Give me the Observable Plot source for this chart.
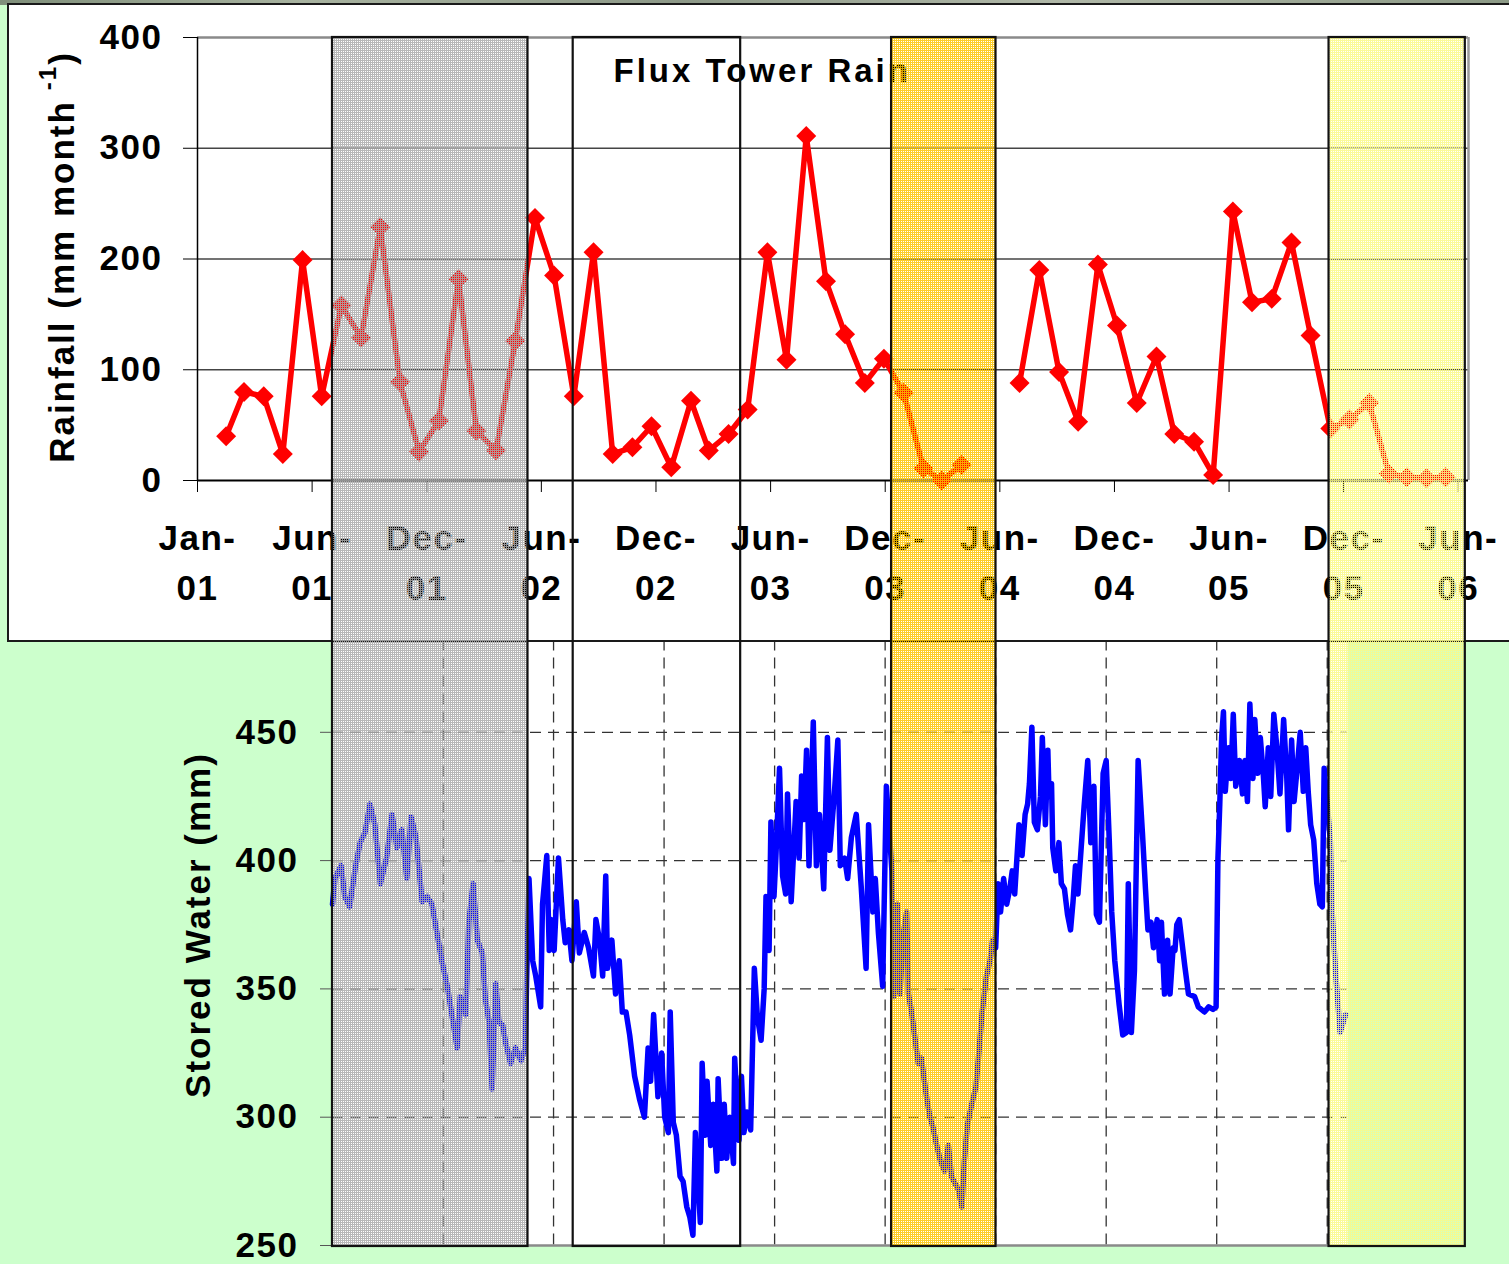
<!DOCTYPE html>
<html><head><meta charset="utf-8">
<script src="https://cdn.jsdelivr.net/npm/d3@7"></script>
<script src="https://cdn.jsdelivr.net/npm/@observablehq/plot@0.6"></script>
<style>
html,body{margin:0;padding:0;width:1509px;height:1264px;overflow:hidden;background:#ccffcc;}
#strip{position:absolute;left:0;top:0;width:1509px;height:5px;background:linear-gradient(90deg,#7f8f7a,#a8b3a0 20%,#8d9988 45%,#b0b8a8 70%,#8c9a86);}
#panel{position:absolute;left:7px;top:3px;width:1515px;height:639px;box-sizing:border-box;border:2px solid #1a1a1a;background:#fff;}
.abs{position:absolute;left:0;top:0;}
#bottomChart{position:absolute;left:0;top:590px;}
svg text{letter-spacing:1.5px;}
.title text{letter-spacing:3px;}
.ylab{position:absolute;font:bold 35px "Liberation Sans",Arial,sans-serif;white-space:nowrap;line-height:1;letter-spacing:2px;transform:translate(-50%,-50%) rotate(-90deg);color:#000;}
.sup{font-size:24px;position:relative;top:-0.75em;margin-left:10px;}
</style></head>
<body>
<div id="bottomChart"></div>
<div id="strip"></div>
<div id="panel"></div>
<div id="topChart" class="abs"></div>
<div class="ylab" style="left:61px;top:257px;">Rainfall (mm month<span class="sup">-1</span>)</div>
<div class="ylab" style="left:197px;top:925px;">Stored Water (mm)</div>
<div id="overlayChart" class="abs"></div>
<script>
// ---------- DATA ----------
const rainStart = "2001-02-15"; // monthly totals, plotted mid-month
const rainValues = [
  40, 80, 76, 24, 199, 76, 158, 129, 229, 89, 26,          // Feb–Dec 2001
  54, 182, 45, 27, 126, 237, 185, 76, 206, 24, 30, 49,     // 2002
  12, 72, 27, 42, 64, 206, 109, 311, 180, 132, 88, 110,    // 2003
  79, 11, 0, 14, null, null, 88, 190, 98, 53, 195, 140,    // 2004
  70, 112, 42, 35, 5, 243, 161, 164, 215, 131, 47, 55,     // 2005
  70, 6, 3, 2, 3                                           // Jan–May 2006
];
const tickDates = ["2001-01-01","2001-06-30","2001-12-27","2002-06-25","2002-12-22","2003-06-20",
                   "2003-12-17","2004-06-14","2004-12-11","2005-06-09","2005-12-06","2006-06-04"];
const tickLabels = ["Jan-\n01","Jun-\n01","Dec-\n01","Jun-\n02","Dec-\n02","Jun-\n03",
                    "Dec-\n03","Jun-\n04","Dec-\n04","Jun-\n05","Dec-\n05","Jun-\n06"];
const rainTicks = [0, 100, 200, 300, 400];
const waterTicks = [250, 300, 350, 400, 450];
const rainDomain = ["2001-01-01", "2006-06-20"];
const waterDomain = ["2001-06-30", "2006-01-08"];
const waterOrigin = "2001-01-01";
// [days since 2001-01-01, stored water mm]
const storedWater = [
 [180,383],[184,393],[194,398],[200,386],[208,382],[217,397],[225,407],[233,411],[241,422],[249,414],
 [258,391],[268,401],[277,418],[285,405],[293,412],[301,393],[308,417],[316,409],[326,384],[334,386],
 [342,383],[350,372],[358,361],[367,351],[375,339],[383,327],[388,347],[397,340],[402,376],[409,391],
 [416,369],[424,364],[429,346],[435,337],[440,311],[446,352],[451,337],[457,336],[462,329],[470,321],
 [478,327],[487,322],[494,327],[496,352],
 [500,393],[506,361],[511,355],[519,343],[522,383],[525,391],[529,402],[533,365],[537,377],[541,365],
 [548,401],[555,377],[559,368],[565,373],[570,361],[577,384],[582,364],[590,372],[597,366],[605,355],
 [609,377],[615,369],[620,355],[625,394],[628,358],[635,369],[641,348],[647,361],[652,341],[658,341],
 [664,332],[672,316],[680,307],[688,300],[694,327],[698,314],[703,340],[710,308],[716,325],[721,300],
 [727,294],[730,341],[735,298],[740,293],[746,277],[751,275],[757,265],[762,261],[767,254],[771,294],
 [779,259],[782,321],[787,293],[790,314],[796,289],[800,305],[806,279],[808,315],[814,284],[818,305],
 [822,284],[827,300],[833,282],[835,323],[842,291],[846,316],[850,294],[855,302],[861,295],[867,358],
 [872,339],[878,330],[883,350],[886,386],[891,365],[894,415],[899,386],[902,401],[908,436],[913,394],
 [918,387],[921,426],[927,384],[935,423],[940,401],[944,433],[948,416],[952,443],[956,398],[963,454],
 [968,398],[973,418],[980,389],[986,448],[990,404],[997,425],[1003,447],[1007,398],[1014,401],[1019,393],
 [1025,409],[1033,418],[1041,390],[1049,358],[1053,414],[1060,380],[1064,393],[1069,372],[1076,351],[1082,429],
 [1091,396],[1094,347],[1100,383],[1104,348],[1110,372],[1115,380],[1118,348],[1123,341],[1129,330],[1134,321],
 [1139,323],[1144,314],[1148,307],[1153,300],[1158,296],[1164,289],[1170,283],[1177,279],[1183,289],[1188,277],
 [1192,275],[1199,272],[1205,265],[1209,283],[1214,297],[1221,305],[1228,312],[1233,326],[1238,341],[1245,355],
 [1251,361],[1255,369],[1260,366],[1264,391],[1268,380],[1273,393],[1278,383],[1283,389],[1287,396],[1291,387],
 [1298,414],[1303,402],[1308,418],[1312,422],[1315,430],[1319,452],[1323,415],[1328,412],[1333,425],[1336,448],
 [1341,414],[1345,443],[1347,425],[1351,430],[1353,405],[1358,396],[1363,407],[1367,391],[1372,389],[1377,379],
 [1382,373],[1386,384],[1390,398],[1394,387],[1399,404],[1404,421],[1410,439],[1415,407],[1420,429],[1424,379],
 [1429,376],[1435,434],[1440,439],[1445,408],[1449,380],[1454,361],[1461,344],[1467,332],[1473,333],[1476,391],
 [1481,333],[1486,357],[1492,439],[1499,411],[1504,389],[1508,373],[1513,376],[1517,366],[1523,377],[1527,361],
 [1530,376],[1535,348],[1540,369],[1544,348],[1549,366],[1552,365],[1555,375],[1559,377],[1563,369],[1568,359],
 [1574,348],[1584,347],[1590,343],[1600,341],[1607,343],[1614,342],[1619,343],[1622,401],[1625,422],[1628,448],
 [1631,458],[1634,427],[1639,444],[1643,432],[1647,457],[1651,429],[1657,439],[1662,426],[1666,439],[1670,423],
 [1674,461],[1679,432],[1682,455],[1687,434],[1691,448],[1696,433],[1699,421],[1704,444],[1708,425],[1713,457],
 [1718,444],[1723,426],[1729,455],[1734,433],[1737,412],[1742,447],[1746,423],[1751,436],[1756,450],[1761,427],
 [1765,444],[1769,427],[1773,414],[1778,408],[1783,391],[1788,383],[1792,382],[1795,436],[1805,408],[1808,380],
 [1814,355],[1821,333],[1830,340]
];
// highlighted periods drawn over both panels
const periods = [
  {name: "gray",   start: "2001-08-01", end: "2002-06-04"},
  {name: "box",    start: "2002-08-14", end: "2003-05-04"},
  {name: "orange", start: "2003-12-27", end: "2004-06-08"},
  {name: "yellow", start: "2005-11-13", end: "2006-06-15"}
];
const chartTitle = "Flux Tower Rain";

// ---------- BUILD ----------
const parse = d3.utcParse("%Y-%m-%d");
const rain = rainValues.map((v, i) => ({date: d3.utcMonth.offset(parse(rainStart), i), value: v}));
const tickObjs = tickDates.map(parse);
const labelMap = new Map(tickObjs.map((d, i) => [+d, tickLabels[i]]));
const water = storedWater.map(([d, v]) => ({date: d3.utcDay.offset(parse(waterOrigin), d), value: v}));
const rDom = rainDomain.map(parse), wDom = waterDomain.map(parse);
const font = '"Liberation Sans", Arial, Helvetica, sans-serif';

// bottom chart: stored water
const waterPlot = Plot.plot({
  width: 1509, height: 710,
  marginLeft: 332, marginRight: 162, marginTop: 13.5, marginBottom: 55,
  x: {type: "utc", domain: wDom, axis: null},
  y: {domain: [250, 500], axis: null},
  style: {background: "transparent", fontFamily: font, fontWeight: "bold", color: "#000", overflow: "visible"},
  marks: [
    Plot.frame({fill: "white", stroke: null}),
    Plot.gridY([300, 350, 400, 450], {stroke: "#333", strokeOpacity: 1, strokeWidth: 1.3, strokeDasharray: "11,7"}),
    Plot.gridX(tickObjs.filter(d => d > wDom[0] && d < wDom[1]), {stroke: "#333", strokeOpacity: 1, strokeWidth: 1.3, strokeDasharray: "11,7"}),
    Plot.ruleY([250], {stroke: "#8a8a8a", strokeWidth: 2.5}),
    Plot.axisY({ticks: waterTicks, tickSize: 12, tickPadding: 22, fontSize: 35, label: null, stroke: "#555"}),
    Plot.line(water, {x: "date", y: "value", stroke: "#0000ff", strokeWidth: 5.5})
  ]
});
document.getElementById("bottomChart").append(waterPlot);

// top chart: rainfall
const rainPlot = Plot.plot({
  width: 1509, height: 641,
  marginLeft: 197, marginRight: 41, marginTop: 37, marginBottom: 161,
  x: {type: "utc", domain: rDom, axis: null},
  y: {domain: [0, 400], axis: null},
  style: {background: "transparent", fontFamily: font, fontWeight: "bold", color: "#000", overflow: "visible"},
  marks: [
    Plot.gridY([100, 200, 300], {stroke: "#444", strokeOpacity: 1, strokeWidth: 1.5}),
    Plot.ruleY([400], {stroke: "#8a8a8a", strokeWidth: 2.5}),
    Plot.ruleX([rDom[1]], {stroke: "#9a9a9a", strokeWidth: 2.5}),
    Plot.ruleX([rDom[0]], {stroke: "#000", strokeWidth: 1.5}),
    Plot.ruleY([0], {stroke: "#000", strokeWidth: 2}),
    Plot.axisY({ticks: rainTicks, tickSize: 14, tickPadding: 21, fontSize: 35, label: null, stroke: "#000"}),
    Plot.axisX({ticks: tickObjs, tickFormat: d => labelMap.get(+d), tickSize: 12, tickPadding: 22, fontSize: 35, lineHeight: 1.43, label: null, stroke: "#000"}),
    Plot.text([chartTitle], {frameAnchor: "top-left", dx: 416, dy: 21, textAnchor: "start", lineAnchor: "top", fontSize: 33, className: "title"}),
    Plot.line(rain, {x: "date", y: "value", stroke: "#ff0000", strokeWidth: 5.5}),
    Plot.dot(rain, {x: "date", y: "value", symbol: "diamond2", r: 9, fill: "#ff0000", stroke: null})
  ]
});
document.getElementById("topChart").append(rainPlot);

// overlay: period rectangles spanning both panels
const overlayPlot = Plot.plot({
  width: 1509, height: 1264,
  marginLeft: 197, marginRight: 41, marginTop: 37, marginBottom: 18,
  x: {type: "utc", domain: rDom, axis: null},
  y: {domain: [0, 1], axis: null},
  style: {background: "transparent", overflow: "visible"},
  marks: [
    Plot.rect(periods, {x1: d => parse(d.start), x2: d => parse(d.end), y1: 0, y2: 1, fill: "#ccc", stroke: "#111", strokeWidth: 2.2})
  ]
});
const NS = "http://www.w3.org/2000/svg";
const defs = document.createElementNS(NS, "defs");
function pattern(id, color, opacity) {
  const p = document.createElementNS(NS, "pattern");
  p.setAttribute("id", id); p.setAttribute("width", 2); p.setAttribute("height", 2);
  p.setAttribute("patternUnits", "userSpaceOnUse");
  [[0,0,2,1],[0,1,1,1]].forEach(([x,y,w,h]) => {
    const r = document.createElementNS(NS, "rect");
    r.setAttribute("x", x); r.setAttribute("y", y); r.setAttribute("width", w); r.setAttribute("height", h);
    r.setAttribute("fill", color); r.setAttribute("fill-opacity", opacity); p.appendChild(r);
  });
  defs.appendChild(p);
}
pattern("pGray", "#acacac", 0.85);
pattern("pOrange", "#fcc400", 0.84);
pattern("pYellow", "#fafa88", 0.86);
overlayPlot.insertBefore(defs, overlayPlot.firstChild);
const periodFill = {gray: "url(#pGray)", box: "none", orange: "url(#pOrange)", yellow: "url(#pYellow)"};
overlayPlot.querySelectorAll('g[aria-label="rect"] rect').forEach((r, i) => r.setAttribute("fill", periodFill[periods[i].name]));
document.getElementById("overlayChart").append(overlayPlot);
</script>
</body></html>
